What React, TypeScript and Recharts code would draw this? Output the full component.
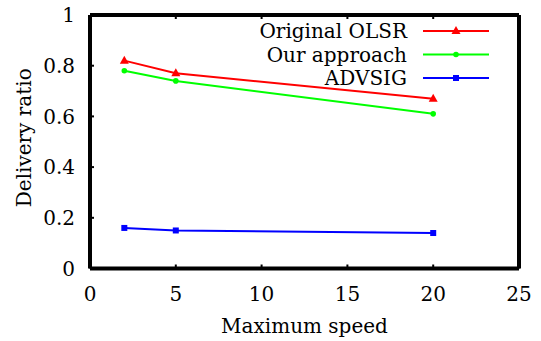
import React from "react";
import { LineChart, Line, XAxis, YAxis, Label } from "recharts";

const speeds = [2, 5, 20];
const olsr = [0.82, 0.77, 0.67];
const ours = [0.78, 0.74, 0.61];
const advsig = [0.16, 0.15, 0.14];
const xTicks = [0, 5, 10, 15, 20, 25];
const yTicks = [0, 0.2, 0.4, 0.6, 0.8, 1];
const seriesNames = ["Original OLSR", "Our approach", "ADVSIG"];

const data = speeds.map((s, i) => ({ speed: s, olsr: olsr[i], ours: ours[i], advsig: advsig[i] }));

const FONT = "'DejaVu Serif', serif";
const RED = "#ff0000";
const GREEN = "#00ff00";
const BLUE = "#0000ff";

const Tri = (props: any) => {
  const { cx, cy, fill } = props;
  if (cx == null || cy == null) return null;
  return <polygon points={`${cx},${cy - 5} ${cx - 4.5},${cy + 3} ${cx + 4.5},${cy + 3}`} fill={fill} />;
};
const Dot = (props: any) => {
  const { cx, cy, fill } = props;
  if (cx == null || cy == null) return null;
  return <circle cx={cx} cy={cy} r={2.8} fill={fill} />;
};
const Sq = (props: any) => {
  const { cx, cy, fill } = props;
  if (cx == null || cy == null) return null;
  return <rect x={cx - 3} y={cy - 3} width={6} height={6} fill={fill} />;
};

const legendItems = [
  { name: seriesNames[0], color: RED, shape: Tri },
  { name: seriesNames[1], color: GREEN, shape: Dot },
  { name: seriesNames[2], color: BLUE, shape: Sq },
];

const LegendBox = () => (
  <svg width={260} height={72} style={{ position: "absolute", left: 240, top: 20, display: "block" }}>
    {legendItems.map((it, i) => {
      const y = 11 + i * 23.5;
      const S = it.shape;
      return (
        <g key={it.name}>
          <text x={167} y={y} dy="0.35em" textAnchor="end" fontFamily={FONT} fontSize={20} fill="#000">
            {it.name}
          </text>
          <line x1={183} x2={249} y1={y} y2={y} stroke={it.color} strokeWidth={2} />
          <S cx={216} cy={y} fill={it.color} />
        </g>
      );
    })}
  </svg>
);

export default function App() {
  const tickStyle = { fontFamily: FONT, fontSize: 20, fill: "#000" };
  return (
    <div style={{ position: "absolute", left: 0, top: 0, width: 541, height: 341, background: "#fff" }}>
      <LineChart width={541} height={341} data={data} margin={{ top: 14, right: 21, bottom: 0, left: 0 }}>
        <XAxis
          xAxisId="b"
          dataKey="speed"
          type="number"
          domain={[0, 25]}
          ticks={xTicks}
          height={72.5}
          stroke="#000"
          tickSize={-4}
          tickMargin={22}
          tick={tickStyle}
          tickLine={{ strokeWidth: 2 }}
          axisLine={{ strokeWidth: 4 }}
          interval={0}
        >
          <Label
            content={(p: any) => {
              const vb = p.viewBox;
              return (
                <text x={vb.x + vb.width / 2} y={vb.y + 64} textAnchor="middle" fontFamily={FONT} fontSize={20} fill="#000">
                  Maximum speed
                </text>
              );
            }}
          />
        </XAxis>
        <XAxis
          xAxisId="t"
          orientation="top"
          dataKey="speed"
          type="number"
          domain={[0, 25]}
          ticks={xTicks}
          height={1}
          stroke="#000"
          tickSize={-4}
          tickFormatter={() => ""}
          tickLine={{ strokeWidth: 2 }}
          axisLine={{ strokeWidth: 4 }}
          interval={0}
        />
        <YAxis
          yAxisId="l"
          type="number"
          domain={[0, 1]}
          ticks={yTicks}
          width={90}
          stroke="#000"
          tickSize={-4}
          tickMargin={19}
          tick={tickStyle}
          tickLine={{ strokeWidth: 2 }}
          axisLine={{ strokeWidth: 4 }}
          interval={0}
        >
          <Label
            content={(p: any) => {
              const vb = p.viewBox;
              const cx = vb.x + 24;
              const cy = vb.y + vb.height / 2 - 4;
              return (
                <text
                  x={cx}
                  y={cy}
                  dy="0.35em"
                  textAnchor="middle"
                  transform={`rotate(-90, ${cx}, ${cy})`}
                  fontFamily={FONT}
                  fontSize={20}
                  fill="#000"
                >
                  Delivery ratio
                </text>
              );
            }}
          />
        </YAxis>
        <YAxis
          yAxisId="r"
          orientation="right"
          type="number"
          domain={[0, 1]}
          ticks={yTicks}
          width={1}
          stroke="#000"
          tickSize={-4}
          tickFormatter={() => ""}
          tickLine={{ strokeWidth: 2 }}
          axisLine={{ strokeWidth: 4 }}
          interval={0}
        />
        <Line xAxisId="b" yAxisId="l" type="linear" dataKey="olsr" name={seriesNames[0]} stroke={RED} strokeWidth={2} dot={<Tri fill={RED} />} isAnimationActive={false} />
        <Line xAxisId="b" yAxisId="l" type="linear" dataKey="ours" name={seriesNames[1]} stroke={GREEN} strokeWidth={2} dot={<Dot fill={GREEN} />} isAnimationActive={false} />
        <Line xAxisId="b" yAxisId="l" type="linear" dataKey="advsig" name={seriesNames[2]} stroke={BLUE} strokeWidth={2} dot={<Sq fill={BLUE} />} isAnimationActive={false} />
      </LineChart>
      <LegendBox />
    </div>
  );
}
